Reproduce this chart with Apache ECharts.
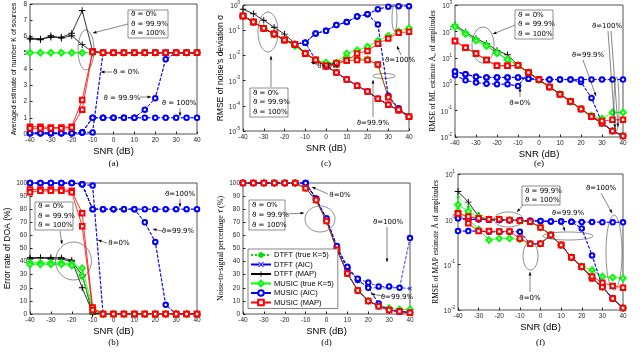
<!DOCTYPE html>
<html><head><meta charset="utf-8">
<script src="https://cdn.jsdelivr.net/npm/echarts@6/dist/echarts.min.js"></script>
<style>html,body{margin:0;padding:0;background:#fff}#c{width:640px;height:364px}</style>
</head><body><div id="c"></div><script>
// ---------- data ----------
const SNR = [-40,-35,-30,-25,-20,-15,-10,-5,0,5,10,15,20,25,30,35,40];
const X_TICKS = [-40,-30,-20,-10,0,10,20,30,40];
const Y_TICKS_A = [0,1,2,3,4,5,6,7,8];
const Y_TICKS_B = [0,10,20,30,40,50,60,70,80,90,100];
const Y_TICKS_C = [1e-5,1e-4,1e-3,1e-2,1e-1,1];
const Y_TICKS_D = [0,10,20,30,40,50,60,70,80,90,100];
const Y_TICKS_E = [1e-2,1e-1,1,1e1,1e2,1e3];
const Y_TICKS_F = [1e-2,1e-1,1,1e1];

// (a) averaged estimate of K
const a_true   = [5,5,5,5,5,5,5,5,5,5,5,5,5,5,5,5,5];
const a_dtMap0 = [5.9,5.85,5.95,5.95,6.2,7.6,5.1,5,5,5,5,5,5,5,5,5,5];
const a_dtMap1 = [5.85,5.8,6.05,5.9,6.05,5.5,5.05,5,5,5,5,5,5,5,5,5,5];
const a_muMap0 = [0.45,0.45,0.4,0.4,0.45,2.1,5.1,5,5,5,5,5,5,5,5,5,5];
const a_muMap1 = [0.35,0.35,0.35,0.35,0.4,1.5,5.05,5,5,5,5,5,5,5,5,5,5];
const a_aic0   = [0.05,0.05,0.05,0.05,0.05,0.1,0.1,5,5,5,5,5,5,5,5,5,5];
const a_aic99  = [0.05,0.05,0.05,0.05,0.05,0.1,1,1,1,1,1,1.5,2.2,4.6,5,5,5];
const a_aic100 = [0.05,0.05,0.05,0.05,0.05,0.1,1,1,1,1,1,1,1,1,1,1,1];

// (b) error rate of DOA (%)
const b_aic0   = [100,100,100,100,100,99,98,0,0,0,0,0,0,0,0,0,0];
const b_aic99  = [100,100,100,100,100,99,80,80,80,80,80,70,55,7,0,0,0];
const b_aic100 = [100,100,100,100,100,99,80,80,80,80,80,80,80,80,80,80,80];
const b_muMap0 = [95,95,95,95,94,77,5,0,0,0,0,0,0,0,0,0,0];
const b_muMap1 = [93,94,94,94,93,67,3,0,0,0,0,0,0,0,0,0,0];
const b_dtMap0 = [43,43,43,43,41,20,1,0,0,0,0,0,0,0,0,0,0];
const b_dtMap1 = [42,43,42,42,40,30,0,0,0,0,0,0,0,0,0,0,0];
const b_muTr0  = [39,39,39,39,38,35,5,0,0,0,0,0,0,0,0,0,0];
const b_muTr1  = [38,38,38,38,37,29,3,0,0,0,0,0,0,0,0,0,0];
const b_dtTr   = [38,38,38,38,37,30,2,0,0,0,0,0,0,0,0,0,0];

// (c) RMSE of noise's deviation
const c_dtMap  = [0.68,0.45,0.25,0.13,0.07,0.03,0.012,0.0066,0.0037,0.0021,0.0011,0.00063,0.00037,0.00019,0.00011,0.000067,0.000037];
const c_dtTr   = [0.4,0.23,0.13,0.075,0.045,0.027,0.012,0.0066,0.0037,0.0021,0.0011,0.00063,0.00037,0.00019,0.00011,0.000067,0.000037];
const c_muMap0 = [0.37,0.21,0.12,0.07,0.041,0.028,0.012,0.0066,0.0037,0.0021,0.0011,0.00063,0.00037,0.00019,0.00011,0.000067,0.000037];
const c_muMap99= [0.37,0.21,0.12,0.07,0.041,0.028,0.012,0.0066,0.0037,0.0045,0.0063,0.0065,0.0065,0.0044,0.00022,0.00007,0.000037];
const c_muMap100=[0.37,0.21,0.12,0.07,0.041,0.028,0.012,0.0066,0.004,0.005,0.0063,0.012,0.015,0.029,0.047,0.079,0.087];
const c_muTr99 = [0.37,0.21,0.12,0.07,0.041,0.024,0.012,0.0066,0.0045,0.005,0.0085,0.0075,0.007,0.0042,0.00023,0.00007,0.000037];
const c_muTr100= [0.37,0.21,0.12,0.07,0.041,0.024,0.012,0.0066,0.0052,0.0052,0.012,0.016,0.022,0.038,0.06,0.09,0.12];
const c_aic0   = [0.37,0.21,0.12,0.07,0.041,0.028,0.032,0.0066,0.0037,0.0021,0.0011,0.00063,0.00037,0.00019,0.00011,0.000067,0.000037];
const c_aic99  = [0.37,0.21,0.12,0.07,0.041,0.028,0.032,0.074,0.095,0.16,0.21,0.35,0.43,0.17,0.00025,0.00008,0.000037];
const c_aic100 = [0.37,0.21,0.12,0.07,0.041,0.028,0.032,0.074,0.095,0.16,0.21,0.35,0.43,0.68,0.86,0.9,0.9];

// (d) noise-to-signal percentage (%)
const d_base   = [100,100,100,100,100,100,96,87,71,49,31,18,10,6,3,2,1];
const d_tr100  = [100,100,100,100,100,100,96,87,71,49,31,18,10,6,4.5,3.5,3.5];
const d_aic0   = [100,100,100,100,100,100,100,88,72,50,31,18,10,6,3,2,1];
const d_aic99  = [100,100,100,100,100,100,100,88,72,51,35,26,20,8,3,2,1];
const d_aic100 = [100,100,100,100,100,100,100,88,73,52,36,27,24,21,21,20,58];
const d_dtAic100=[100,100,100,100,100,100,100,88,72,51,35,26,20,20,20,20,19.5];

// (e) RMSE of ML estimate of amplitudes
const e_dtMap  = [174,94,54,35,19,13,5.3,2.8,1.46,0.79,0.42,0.22,0.115,0.06,0.033,0.017,0.011];
const e_dtTr   = [158,83,47,30,15.5,8.7,5.2,2.8,1.46,0.79,0.42,0.22,0.115,0.06,0.033,0.017,0.011];
const e_muTr100= [150,80,45,28,15,8.5,5.2,2.8,1.46,0.79,0.42,0.22,0.115,0.065,0.05,0.085,0.085];
const e_muMap0 = [43,24,14.6,8.2,5,5,5.2,2.8,1.46,0.79,0.42,0.22,0.115,0.06,0.033,0.017,0.011];
const e_muMap100=[43,24,14.6,8.2,5,5,5.2,2.8,1.46,0.79,0.42,0.22,0.115,0.06,0.04,0.045,0.045];
const e_aic0   = [2.2,1.4,1.15,1.05,1.0,1.0,0.85,2.8,1.46,0.79,0.42,0.22,0.115,0.06,0.033,0.017,0.011];
const e_aic99  = [3.0,2.4,1.9,1.8,1.8,1.8,1.8,1.6,1.5,1.5,1.5,1.5,1.2,0.3,0.035,0.017,0.011];
const e_aic100 = [3.0,2.4,1.9,1.8,1.8,1.8,1.8,1.6,1.5,1.5,1.5,1.5,1.5,1.5,1.5,1.5,1.5];

// (f) RMSE of MAP estimate of amplitudes
const f_dtMap  = [4.1,2.4,1.15,1.0,1.0,0.97,0.93,0.89,0.66,0.45,0.27,0.145,0.09,0.05,0.032,0.018,0.011];
const f_dtTr   = [3.1,1.9,1.35,1.05,1.0,0.97,0.93,0.89,0.66,0.45,0.27,0.145,0.09,0.05,0.032,0.018,0.011];
const f_muTr100= [2.1,1.5,1.1,1.0,1.0,0.97,0.93,0.89,0.66,0.45,0.27,0.145,0.09,0.076,0.055,0.052,0.05];
const f_muTr0  = [1.5,1.0,0.6,0.35,0.38,0.38,0.36,0.29,0.29,0.45,0.27,0.145,0.09,0.05,0.032,0.018,0.011];
const f_muMap100=[1.35,1.15,1.05,1.0,1.0,0.97,0.93,0.89,0.66,0.45,0.27,0.145,0.09,0.055,0.04,0.034,0.031];
const f_muMap0 = [1.35,0.82,0.55,0.55,0.54,0.54,0.38,0.29,0.29,0.45,0.27,0.145,0.09,0.05,0.032,0.018,0.011];
const f_aic0   = [0.55,0.55,0.55,0.53,0.53,0.53,0.53,0.29,0.29,0.45,0.27,0.145,0.09,0.05,0.032,0.018,0.011];
const f_aic99  = [1.05,1.0,1.0,0.98,0.97,0.96,0.95,0.93,0.92,0.9,0.9,0.88,0.63,0.16,0.033,0.018,0.011];
const f_aic100 = [1.05,1.0,1.0,0.98,0.97,0.96,0.95,0.93,0.92,0.9,0.9,0.88,0.87,0.87,0.86,0.86,0.86];

// ---------- styles ----------
const X_SYM = 'path://M0,1.2L1.2,0L5,3.8L8.8,0L10,1.2L6.2,5L10,8.8L8.8,10L5,6.2L1.2,10L0,8.8L3.8,5Z';
const P_SYM = 'path://M4.3,0H5.7V4.3H10V5.7H5.7V10H4.3V5.7H0V4.3H4.3Z';
const STY = {
  dtTrue:{name:'DTFT (true K=5)', color:'#00dd00', type:'dotted', symbol:'circle', size:3, z:2},
  dtAic:{name:'DTFT (AIC)', color:'#0000ff', type:'dashed', symbol:X_SYM, size:4, z:3},
  dtMap:{name:'DTFT (MAP)', color:'#000000', type:'solid', symbol:P_SYM, size:6.5, z:4},
  muTrue:{name:'MUSIC (true K=5)', color:'#00ff00', type:'solid', symbol:'emptyDiamond', size:5.5, z:5},
  muAic:{name:'MUSIC (AIC)', color:'#0000ff', type:'dashed', symbol:'emptyCircle', size:4.5, z:6},
  muMap:{name:'MUSIC (MAP)', color:'#ff0000', type:'solid', symbol:'emptyRect', size:4.5, z:7}
};
const ORDER = ['dtTrue','dtAic','dtMap','muTrue','muAic','muMap'];

const PANELS = [
  {key:'a', series:[['dtTrue',a_true],['muTrue',a_true],['dtAic',a_aic0],['dtAic',a_aic99],['dtAic',a_aic100],['dtMap',a_dtMap0],['dtMap',a_dtMap1],['muAic',a_aic0],['muAic',a_aic99],['muAic',a_aic100],['muMap',a_muMap0],['muMap',a_muMap1]]},
  {key:'c', series:[['dtTrue',c_dtTr],['dtAic',c_aic0],['dtAic',c_aic99],['dtAic',c_aic100],['dtMap',c_dtMap],['muTrue',c_muTr99],['muTrue',c_muTr100],['muAic',c_aic0],['muAic',c_aic99],['muAic',c_aic100],['muMap',c_muMap0],['muMap',c_muMap99],['muMap',c_muMap100]]},
  {key:'e', series:[['dtTrue',e_dtTr],['dtAic',e_aic0],['dtAic',e_aic99],['dtAic',e_aic100],['dtMap',e_dtMap],['muTrue',e_dtTr],['muTrue',e_muTr100],['muAic',e_aic0],['muAic',e_aic99],['muAic',e_aic100],['muMap',e_muMap0],['muMap',e_muMap100]]},
  {key:'b', series:[['dtTrue',b_dtTr],['dtAic',b_aic0],['dtAic',b_aic99],['dtAic',b_aic100],['dtMap',b_dtMap0],['dtMap',b_dtMap1],['muTrue',b_muTr0],['muTrue',b_muTr1],['muAic',b_aic0],['muAic',b_aic99],['muAic',b_aic100],['muMap',b_muMap0],['muMap',b_muMap1]]},
  {key:'d', series:[['dtTrue',d_base],['dtAic',d_aic0],['dtAic',d_aic99],['dtAic',d_dtAic100],['dtMap',d_base],['muTrue',d_tr100],['muAic',d_aic0],['muAic',d_aic99],['muAic',d_aic100],['muMap',d_base]]},
  {key:'f', series:[['dtTrue',f_dtTr],['dtAic',f_aic0],['dtAic',f_aic99],['dtAic',f_aic100],['dtMap',f_dtMap],['muTrue',f_muTr0],['muTrue',f_muTr100],['muAic',f_aic0],['muAic',f_aic99],['muAic',f_aic100],['muMap',f_muMap0],['muMap',f_muMap100]]}
];

// ---------- layout ----------
const LAY = {
  a:{l:30,t:4,w:167,h:130, ticks:Y_TICKS_A, log:false, name:'Averaged estimate of number K of sources', font:'sans', fs:7, gap:12, cap:'(a)', capY:164},
  c:{l:243,t:4,w:166,h:127, ticks:Y_TICKS_C, log:true, name:"RMSE of noise's deviation σ", font:'sans', fs:8.5, gap:16, cap:'(c)', capY:164},
  e:{l:455,t:5,w:168,h:132, ticks:Y_TICKS_E, log:true, name:'RMSE of ML estimate A₀ of amplitudes', font:'serif', fs:7.5, gap:17, cap:'(e)', capY:164},
  b:{l:30,t:183,w:167,h:131, ticks:Y_TICKS_B, log:false, name:'Error rate of DOA (%)', font:'sans', fs:8.5, gap:16, cap:'(b)', capY:343},
  d:{l:243,t:183,w:167,h:131, ticks:Y_TICKS_D, log:false, name:'Noise-to-signal percentage τ̄ (%)', font:'serif', fs:8, gap:16, cap:'(d)', capY:343},
  f:{l:458,t:174,w:165,h:136, ticks:Y_TICKS_F, log:true, name:'RMSE of MAP estimate Ā of amplitudes', font:'serif', fs:7.5, gap:17, cap:'(f)', capY:343}
};
const SANS = '"Liberation Sans", Arial, sans-serif';
const SERIF = '"Liberation Serif", "Times New Roman", serif';

const grids=[], xAxes=[], yAxes=[], series=[];
PANELS.forEach((p,gi)=>{
  const L = LAY[p.key];
  grids.push({left:L.l, top:L.t, width:L.w, height:L.h, show:true, borderColor:'#262626', borderWidth:0.8, backgroundColor:'#fff', containLabel:false});
  xAxes.push({type:'value', gridIndex:gi, position:'bottom', min:X_TICKS[0], max:X_TICKS[X_TICKS.length-1], interval:X_TICKS[1]-X_TICKS[0],
    name:'SNR (dB)', nameLocation:'middle', nameGap:12, nameTextStyle:{fontFamily:SANS, fontSize:9.5, color:'#000'},
    axisLine:{show:false, onZero:false}, axisTick:{inside:true, length:2.5, lineStyle:{color:'#262626'}},
    axisLabel:{fontFamily:SANS, fontSize:6.5, color:'#262626', margin:3},
    splitLine:{show:false}});
  const y = {gridIndex:gi, position:'left', name:L.name, nameLocation:'middle', nameGap:L.gap,
    nameTextStyle:{fontFamily: L.font==='serif'?SERIF:SANS, fontSize:L.fs, color:'#000'},
    axisLine:{show:false, onZero:false}, axisTick:{show:true, inside:true, length:2.5, lineStyle:{color:'#262626'}},
    splitLine:{show:false}};
  if (L.log){
    Object.assign(y,{type:'log', logBase:10, min:L.ticks[0], max:L.ticks[L.ticks.length-1],
      axisLabel:{fontFamily:SANS, color:'#262626', margin:3,
        formatter:v=>'{b|10}{s|'+Math.round(Math.log10(v))+'}',
        rich:{b:{fontSize:6.5, fontFamily:SANS, color:'#262626', lineHeight:10, verticalAlign:'bottom'}, s:{fontSize:4.5, fontFamily:SANS, color:'#262626', lineHeight:10, verticalAlign:'top'}}}});
  } else {
    Object.assign(y,{type:'value', min:L.ticks[0], max:L.ticks[L.ticks.length-1], interval:L.ticks[1]-L.ticks[0],
      axisLabel:{fontFamily:SANS, fontSize:6.5, color:'#262626', margin:3}});
  }
  yAxes.push(y);
  p.series.forEach(([k,vals])=>{
    const st = STY[k];
    series.push({type:'line', name:st.name, xAxisIndex:gi, yAxisIndex:gi,
      data:SNR.map((x,i)=>[x,vals[i]]), symbol:st.symbol, symbolSize:st.size, showAllSymbol:true,
      lineStyle:{color:st.color, width:0.8, type:st.type},
      itemStyle:{color:st.color, borderWidth:0.7},
      z:st.z, animation:false, silent:true, clip:true});
  });
});

// ---------- annotations ----------
const G=[];
const AF = '7px "DejaVu Sans", "Liberation Sans", sans-serif';
function txt(x,y,s,f){G.push({type:'text', x:x, y:y, z:200, style:{text:s, font:f||AF, fill:'#000', align:'center', verticalAlign:'middle'}});}
function ell(cx,cy,rx,ry){G.push({type:'ellipse', z:150, shape:{cx:cx,cy:cy,rx:rx,ry:ry}, style:{fill:'none', stroke:'#444', lineWidth:0.6}});}
function arrow(x1,y1,x2,y2){
  G.push({type:'line', z:150, shape:{x1:x1,y1:y1,x2:x2,y2:y2}, style:{stroke:'#333', lineWidth:0.6}});
  const a=Math.atan2(y2-y1,x2-x1), HL=3.5, HW=1.4;
  const bx=x2-HL*Math.cos(a), by=y2-HL*Math.sin(a);
  G.push({type:'polygon', z:150, shape:{points:[[x2,y2],[bx+HW*Math.sin(a),by-HW*Math.cos(a)],[bx-HW*Math.sin(a),by+HW*Math.cos(a)]]}, style:{fill:'#000'}});
}
function box(x,y,w,h,lines){
  G.push({type:'rect', z:180, shape:{x:x,y:y,width:w,height:h}, style:{fill:'#fff', stroke:'#444', lineWidth:0.6}});
  const lh=h/lines.length;
  lines.forEach((s,i)=>G.push({type:'text', z:200, x:x+3, y:y+lh*(i+0.5), style:{text:s, font:AF, fill:'#000', align:'left', verticalAlign:'middle'}}));
}
const TH3 = ['ϑ = 0%','ϑ = 99.9%','ϑ = 100%'];
// (a)
box(128,10,40,28,TH3); ell(86,50,8,20); arrow(128,24,93,33);
txt(126,72,'ϑ = 0%'); arrow(112,72,101,72);
txt(122,98,'ϑ = 99.9%'); arrow(140,97,151,97);
txt(179,103,'ϑ = 100%'); arrow(180,108,180,116);
// (c)
box(250,88,38,29,TH3); ell(268,32,10,20); arrow(271,87,271,56);
txt(328,66,'ϑ=0%'); arrow(318,65,311,62);
txt(400,60,'ϑ=100%'); arrow(401,55,397,46); ell(394.5,18,2.5,13);
ell(384,76,11,2.5); txt(373,123,'ϑ=99.9%'); arrow(373,117,373,80);
// (e)
box(515,10,38,29,TH3); ell(483,45,11,18); arrow(515,25,493,34);
txt(520,103,'ϑ=0%'); arrow(520,97,520,88);
txt(588,55,'ϑ=99.9%'); arrow(583,60,596,96);
txt(607,26,'ϑ=100%'); arrow(608,31,615,128); arrow(611,31,618,127); ell(616.5,104,2.5,27);
// (b)
box(35,202,38,28,TH3); ell(73.5,261,18,19); arrow(60,231,62,244);
txt(180,194,'ϑ=100%'); arrow(180,199,180,207);
txt(119,243,'ϑ=0%'); arrow(107,243,98,240);
txt(178,231,'ϑ=99.9%'); arrow(162,231,153,229);
// (d)
box(249,200,36,30,TH3); ell(320,219,15,13); arrow(286,214,304,213);
txt(340,195,'ϑ=0%'); arrow(328,194,312,187);
txt(388,222,'ϑ=100%'); arrow(387,227,387,262);
txt(397,297,'ϑ=99.9%'); arrow(383,296,371,294);
// (f)
box(522,186,38,19,['ϑ = 99.9%','ϑ = 100%']); ell(508.5,219.5,14.5,7.5); arrow(523,205,517,212);
txt(568,213,'ϑ=99.9%'); ell(568,236,25,4); arrow(560,218,565,231);
txt(530,298,'ϑ=0%'); arrow(530,292,530,272); ell(530.5,256,7.5,14);
txt(601,188,'ϑ=100%'); arrow(601,193,612,213); ell(614,252.5,8,37.5);
// captions (placed slightly off the grid centre line)
Object.keys(LAY).forEach(k=>{const P=LAY[k]; txt(P.l+P.w/2, P.capY, P.cap, '9px "Liberation Serif", serif');});

const chart = echarts.init(document.getElementById('c'), null, {renderer:'canvas'});
chart.setOption({
  animation:false, backgroundColor:'#fff',
  grid:grids, xAxis:xAxes, yAxis:yAxes, series:series,
  legend:{data:ORDER.map(k=>STY[k].name), orient:'vertical', left:248, top:249, itemGap:1.5, itemWidth:20, itemHeight:7,
    textStyle:{fontFamily:SANS, fontSize:7.5, color:'#000', padding:[0,0,0,-2]}, borderColor:'#333', borderWidth:0.6,
    padding:[2,4,2,2], backgroundColor:'#fff', selectedMode:false, z:300},
  graphic:{elements:G}
});
</script></body></html>
